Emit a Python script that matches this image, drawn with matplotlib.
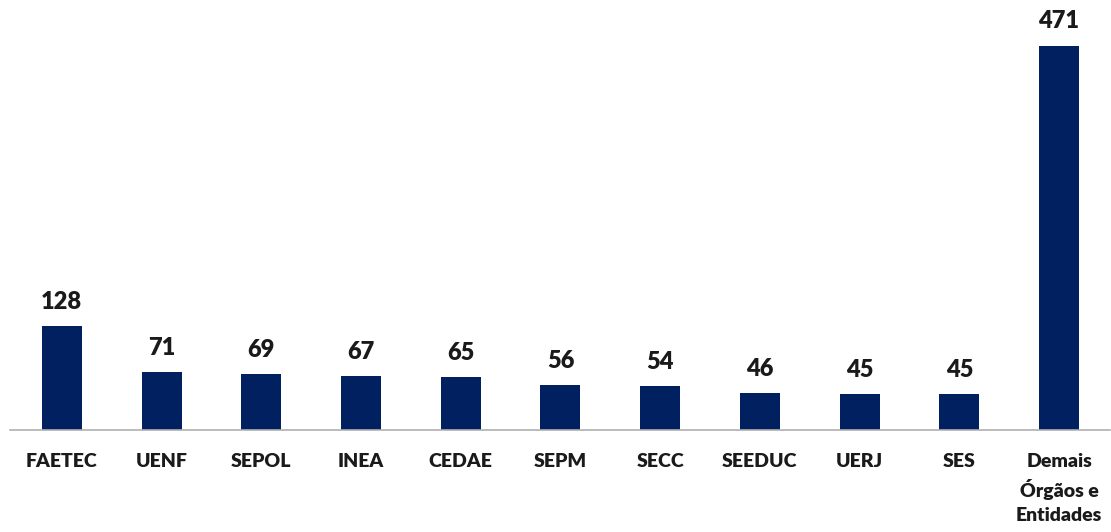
import matplotlib.pyplot as plt

plt.rcParams["font.family"] = ["Lato", "DejaVu Sans"]

orgaos = ["FAETEC", "UENF", "SEPOL", "INEA", "CEDAE", "SEPM", "SECC",
          "SEEDUC", "UERJ", "SES", "Demais\nÓrgãos e\nEntidades"]
valores = [128, 71, 69, 67, 65, 56, 54, 46, 45, 45, 471]

NAVY = "#002060"
INK = "#1a1a1a"

fig = plt.figure(figsize=(11.11, 5.32), dpi=100)
ax = fig.add_axes([0.009, 0.191, 0.99, 0.768])
fig.patch.set_facecolor("#ffffff")

x = range(len(orgaos))
bars = ax.bar(x, valores, width=0.4, color=NAVY)

for xi, v in zip(x, valores):
    ax.text(xi, v + 16, str(v), ha="center", va="bottom",
            fontsize=17, fontweight="heavy", color=INK)

ax.set_xlim(-0.52, 10.51)
ax.set_ylim(0, 500)
ax.set_xticks(list(x))
ax.set_xticklabels(orgaos, fontsize=14, fontweight="heavy", color=INK,
                   linespacing=1.5)
ax.tick_params(axis="x", length=0, pad=16)
ax.set_yticks([])
for side in ["top", "right", "left"]:
    ax.spines[side].set_visible(False)
ax.spines["bottom"].set_color("#b0b0b0")
ax.spines["bottom"].set_linewidth(1.2)

plt.savefig("out.png", dpi=100, facecolor="#ffffff")
plt.close(fig)
